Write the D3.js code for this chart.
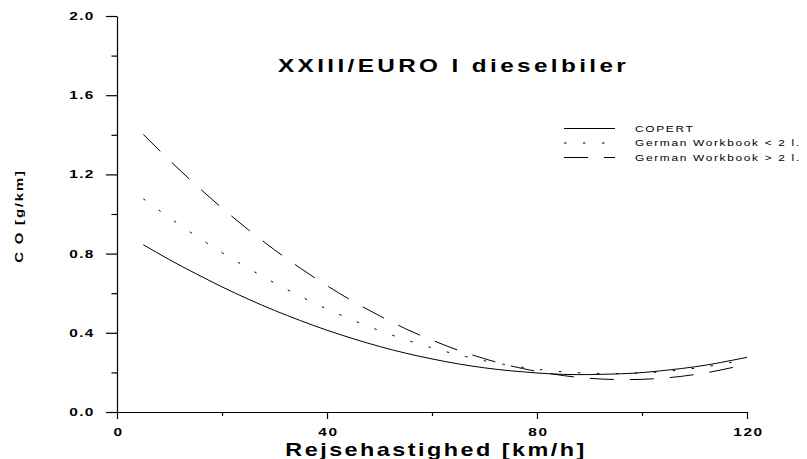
<!DOCTYPE html>
<html>
<head>
<meta charset="utf-8">
<script src="https://cdn.jsdelivr.net/npm/d3@7"></script>
<style>
  html, body { margin: 0; padding: 0; background: #fff; }
  svg { display: block; }
  text { font-family: "Liberation Sans", Arial, Helvetica, sans-serif; fill: #000; }
</style>
</head>
<body>
<svg id="chart" width="807" height="459"></svg>
<script>
// Travel speed (km/h) at which each emission curve is sampled
const speeds = [5, 10, 15, 20, 25, 30, 35, 40, 45, 50, 55, 60,
                65, 70, 75, 80, 85, 90, 95, 100, 105, 110, 115, 120];

// CO emission factors, g/km
const copert = [0.845, 0.769, 0.699, 0.632, 0.570, 0.513, 0.461, 0.413,
                0.370, 0.331, 0.297, 0.268, 0.243, 0.223, 0.208, 0.197,
                0.190, 0.189, 0.192, 0.199, 0.212, 0.228, 0.250, 0.276];
const germanSmall = [1.077, 0.981, 0.890, 0.805, 0.726, 0.652, 0.583, 0.520,
                     0.463, 0.411, 0.365, 0.324, 0.289, 0.259, 0.235, 0.216,
                     0.203, 0.196, 0.194, 0.197, 0.206, 0.221, 0.241, 0.267];
const germanLarge = [1.402, 1.271, 1.147, 1.030, 0.921, 0.819, 0.725, 0.638,
                     0.558, 0.486, 0.420, 0.363, 0.312, 0.269, 0.233, 0.205,
                     0.184, 0.170, 0.164, 0.165, 0.173, 0.189, 0.212, 0.242];

const seriesNames = ["COPERT", "German Workbook < 2 l.", "German Workbook > 2 l."];
const seriesDash = [null, "2.5,16.5", "24,16"];

const yMajor = [0.0, 0.4, 0.8, 1.2, 1.6, 2.0];
const yMinor = [0.2, 0.6, 1.0, 1.4, 1.8];
const xMajor = [0, 40, 80, 120];
const xMinor = [20, 60, 100];

const chartTitle = "XXIII/EURO I dieselbiler";
const xTitle = "Rejsehastighed [km/h]";
const yTitle = "C O [g/km]";

const svg = d3.select("#chart");
svg.append("rect").attr("width", 807).attr("height", 459).attr("fill", "#fff");

const x = d3.scaleLinear().domain([0, 120]).range([117, 747]);
const y = d3.scaleLinear().domain([0, 2]).range([412, 16]);

// Wide lettering: anchor each text at its own position, then stretch horizontally
function widen(sel, sx) {
  sel.each(function () {
    const t = d3.select(this);
    const tx = +t.attr("x") || 0, ty = +t.attr("y") || 0;
    t.attr("transform", `translate(${tx},${ty}) scale(${sx},1)`)
     .attr("x", 0).attr("y", 0);
  });
}

function styleAxis(g) {
  g.selectAll("path, line").attr("stroke", "#000").attr("stroke-width", 1.2);
}

// Y axis: major ticks with labels, minor ticks without
const yAxisG = svg.append("g").attr("transform", `translate(${x(0)},0)`)
  .call(d3.axisLeft(y).tickValues(yMajor).tickSize(11).tickSizeOuter(0)
        .tickPadding(11.5).tickFormat(d3.format(".1f")));
svg.append("g").attr("transform", `translate(${x(0)},0)`)
  .call(d3.axisLeft(y).tickValues(yMinor).tickSize(5.5).tickSizeOuter(0).tickFormat(""))
  .call(g => g.select(".domain").remove())
  .call(styleAxis);
yAxisG.call(styleAxis);
yAxisG.selectAll("text")
  .attr("font-size", 11).attr("font-weight", "bold").attr("letter-spacing", 0.9)
  .call(widen, 1.4);

// X axis
const xAxisG = svg.append("g").attr("transform", `translate(0,${y(0)})`)
  .call(d3.axisBottom(x).tickValues(xMajor).tickSize(7).tickSizeOuter(0)
        .tickPadding(8.7).tickFormat(d3.format("d")));
svg.append("g").attr("transform", `translate(0,${y(0)})`)
  .call(d3.axisBottom(x).tickValues(xMinor).tickSize(4).tickSizeOuter(0).tickFormat(""))
  .call(g => g.select(".domain").remove())
  .call(styleAxis);
xAxisG.call(styleAxis);
xAxisG.selectAll("text")
  .attr("font-size", 11).attr("font-weight", "bold").attr("letter-spacing", 1.2)
  .attr("x", 1)
  .call(widen, 1.4);

// Emission curves
const series = [copert, germanSmall, germanLarge];
const line = d3.line()
  .x(d => x(d[0]))
  .y(d => y(d[1]))
  .curve(d3.curveNatural);

series.forEach((vals, i) => {
  svg.append("path")
    .datum(speeds.map((s, j) => [s, vals[j]]))
    .attr("fill", "none")
    .attr("stroke", "#000")
    .attr("stroke-width", 1)
    .attr("stroke-dasharray", seriesDash[i])
    .attr("d", line);
});

// Legend
const legend = svg.append("g");
const legendRows = [128.5, 143, 157.5];
seriesNames.forEach((name, i) => {
  legend.append("line")
    .attr("x1", 564).attr("x2", 615)
    .attr("y1", legendRows[i]).attr("y2", legendRows[i])
    .attr("stroke", "#000").attr("stroke-width", 1)
    .attr("stroke-dasharray", seriesDash[i]);
  legend.append("text")
    .attr("x", 635).attr("y", legendRows[i] + 3)
    .attr("font-size", 8.5).attr("letter-spacing", 1.2)
    .text(name)
    .call(widen, 1.4);
});

// Chart title
svg.append("text")
  .attr("x", 278).attr("y", 71.5)
  .attr("font-size", 18.7).attr("font-weight", "bold").attr("letter-spacing", 2.6)
  .text(chartTitle)
  .call(widen, 1.3);

// Axis titles
svg.append("text")
  .attr("x", 436).attr("y", 455.5)
  .attr("text-anchor", "middle")
  .attr("font-size", 18).attr("font-weight", "bold").attr("letter-spacing", 1.9)
  .text(xTitle)
  .call(widen, 1.3);

svg.append("text")
  .attr("transform", "translate(23,216) rotate(-90) scale(1.3,1)")
  .attr("text-anchor", "middle")
  .attr("font-size", 11.5).attr("font-weight", "bold").attr("letter-spacing", 1.4)
  .text(yTitle);
</script>
</body>
</html>
